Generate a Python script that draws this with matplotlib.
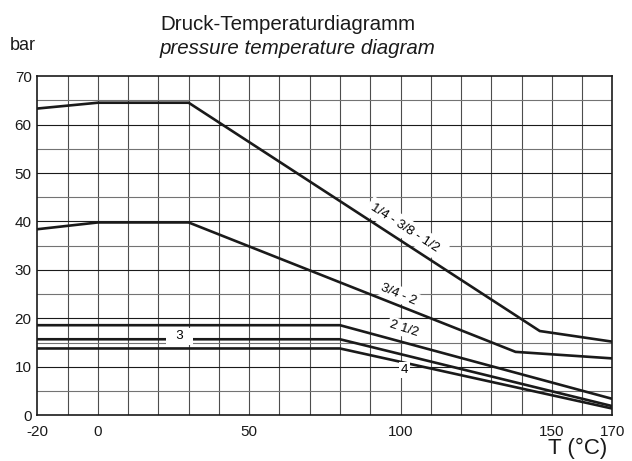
import matplotlib.pyplot as plt
import numpy as np

plt.rcParams['font.family'] = ['Liberation Sans', 'DejaVu Sans']

# pressure curves, temperature in °C, pressure in bar
t_small = [-20, 0, 30, 146, 170]
p_small = [63.3, 64.5, 64.5, 17.4, 15.2]

t_mid = [-20, 0, 30, 138, 170]
p_mid = [38.4, 39.8, 39.8, 13.1, 11.75]

t_large = [-20, 80, 170]
p_2_5 = [18.6, 18.6, 3.4]
p_3 = [15.7, 15.7, 1.9]
p_4 = [13.8, 13.8, 1.4]

x_ticks = [-20, 0, 50, 100, 150, 170]
y_ticks = [0, 10, 20, 30, 40, 50, 60, 70]

fig = plt.figure(figsize=(6.32, 4.61), dpi=100)
ax = fig.add_axes([0.059, 0.099, 0.91, 0.736])
ax.set_xlim(-20, 170)
ax.set_ylim(0, 70)

# grid
for x in np.arange(-10, 170, 10):
    ax.axvline(x, color='0.3', lw=0.8, zorder=1)
for y in np.arange(5, 70, 5):
    ax.axhline(y, color='0.1' if y % 10 == 0 else '0.45', lw=0.8, zorder=1)

lw = 1.9
for t, p in [(t_small, p_small), (t_mid, p_mid), (t_large, p_2_5),
             (t_large, p_3), (t_large, p_4)]:
    ax.plot(t, p, color='#1a1a1a', lw=lw, zorder=3, solid_joinstyle='miter')

box = dict(fc='white', ec='none', pad=1.5)
ax.text(102, 38.4, '1/4 - 3/8 - 1/2 ', rotation=-33, ha='center', va='center',
        fontsize=9.5, bbox=dict(fc='white', ec='none', pad=3), zorder=4)
ax.text(99.4, 25.0, '3/4 - 2', rotation=-23, ha='center', va='center',
        fontsize=9.5, bbox=box, zorder=4)
ax.text(101.2, 17.9, '2 1/2', rotation=-18, ha='center', va='center',
        fontsize=9.5, bbox=box, zorder=4)
ax.text(101.3, 9.3, '4', ha='center', va='center', fontsize=9.5,
        bbox=box, zorder=4)
ax.text(27, 16.3, '  3  ', ha='center', va='center', fontsize=9.5,
        bbox=dict(fc='white', ec='none', pad=2), zorder=4)

ax.set_xticks(x_ticks)
ax.set_xticklabels([str(v) for v in x_ticks])
ax.set_yticks(y_ticks)
ax.tick_params(length=0, labelsize=11, colors='#1a1a1a')
ax.tick_params(axis='x', pad=7)
ax.tick_params(axis='y', pad=4)
for s in ax.spines.values():
    s.set_linewidth(1.2)
    s.set_color('#1a1a1a')
    s.set_zorder(5)

fig.text(160 / 632, 1 - 25 / 461, 'Druck-Temperaturdiagramm', fontsize=14.8,
         ha='left', va='center', color='#1a1a1a')
fig.text(160 / 632, 1 - 48 / 461, 'pressure temperature diagram', fontsize=14.8,
         style='italic', ha='left', va='center', color='#1a1a1a')
fig.text(10 / 632, 1 - 45 / 461, 'bar', fontsize=13, ha='left', va='center',
         color='#1a1a1a')
fig.text(607 / 632, 1 - 448 / 461, 'T (°C)', fontsize=16, ha='right',
         va='center', color='#1a1a1a')

fig.savefig('out.png', dpi=100)
